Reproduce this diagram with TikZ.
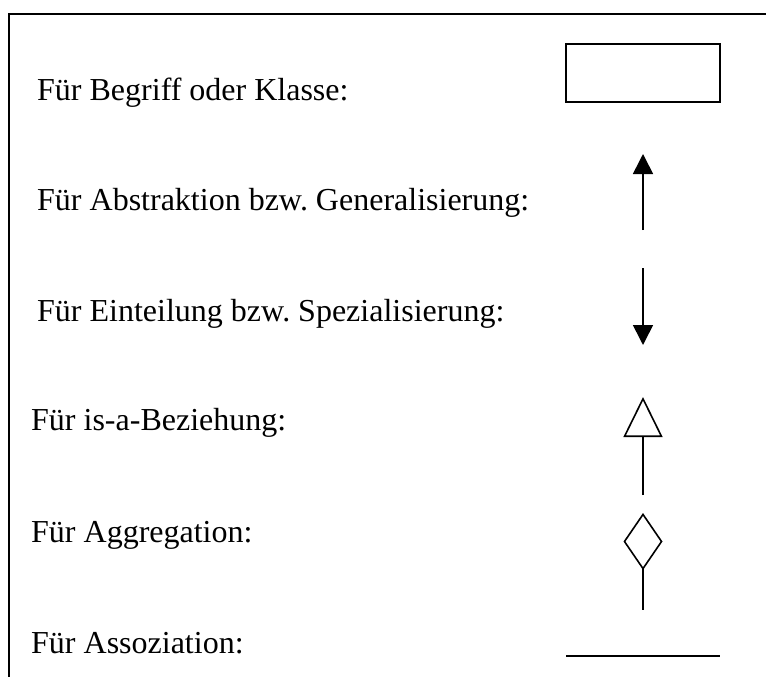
\documentclass[tikz,border=0pt]{standalone}
\usepackage{fontspec}
\setmainfont{Liberation Serif}
\usetikzlibrary{arrows.meta}
\frenchspacing
\begin{document}
\begin{tikzpicture}[x=1pt,y=-1pt,
  legendtext/.style={anchor=base west,inner sep=0pt,font=\fontsize{32}{38}\selectfont},
  symline/.style={line width=1.6pt},
  classbox/.style={draw,line width=1.6pt,minimum width=154pt,minimum height=58pt,inner sep=0pt}]
  \useasboundingbox (0,0) rectangle (766,677);
  % partial frame: left and top edges
  \coordinate (frameBL) at (9,677);
  \coordinate (frameTL) at (9,14);
  \coordinate (frameTR) at (766,14);
  \draw[line width=1.4pt] (frameBL) -- (frameTL) -- (frameTR);

  % labels
  \node[legendtext] (t1) at (37,100) {Für Begriff oder Klasse:};
  \node[legendtext] (t2) at (37,210) {Für Abstraktion bzw. Generalisierung:};
  \node[legendtext] (t3) at (37,321) {Für Einteilung bzw. Spezialisierung:};
  \node[legendtext] (t4) at (31,430) {Für is-a-Beziehung:};
  \node[legendtext] (t5) at (31,542) {Für Aggregation:};
  \node[legendtext] (t6) at (31,653) {Für Assoziation:};

  % class box
  \node[classbox] (klasse) at (643,73) {};

  % generalisation arrow
  \coordinate (genS) at (643,230);
  \coordinate (genT) at (643,154);
  \draw[symline,-{Triangle[width=20pt,length=20pt]}] (genS) -- (genT);

  % specialisation arrow
  \coordinate (specS) at (643,268);
  \coordinate (specT) at (643,345);
  \draw[symline,-{Triangle[width=20pt,length=20pt]}] (specS) -- (specT);

  % is-a relation
  \coordinate (isaS) at (643,495);
  \coordinate (isaT) at (643,397);
  \draw[symline,-{Triangle[open,width=39pt,length=40pt]}] (isaS) -- (isaT);

  % aggregation
  \coordinate (aggT) at (643,513);
  \coordinate (aggS) at (643,610);
  \draw[symline,{Diamond[open,width=39pt,length=57pt]}-] (aggT) -- (aggS);

  % association
  \coordinate (assA) at (566,656);
  \coordinate (assB) at (720,656);
  \draw[symline] (assA) -- (assB);
\end{tikzpicture}
\end{document}
